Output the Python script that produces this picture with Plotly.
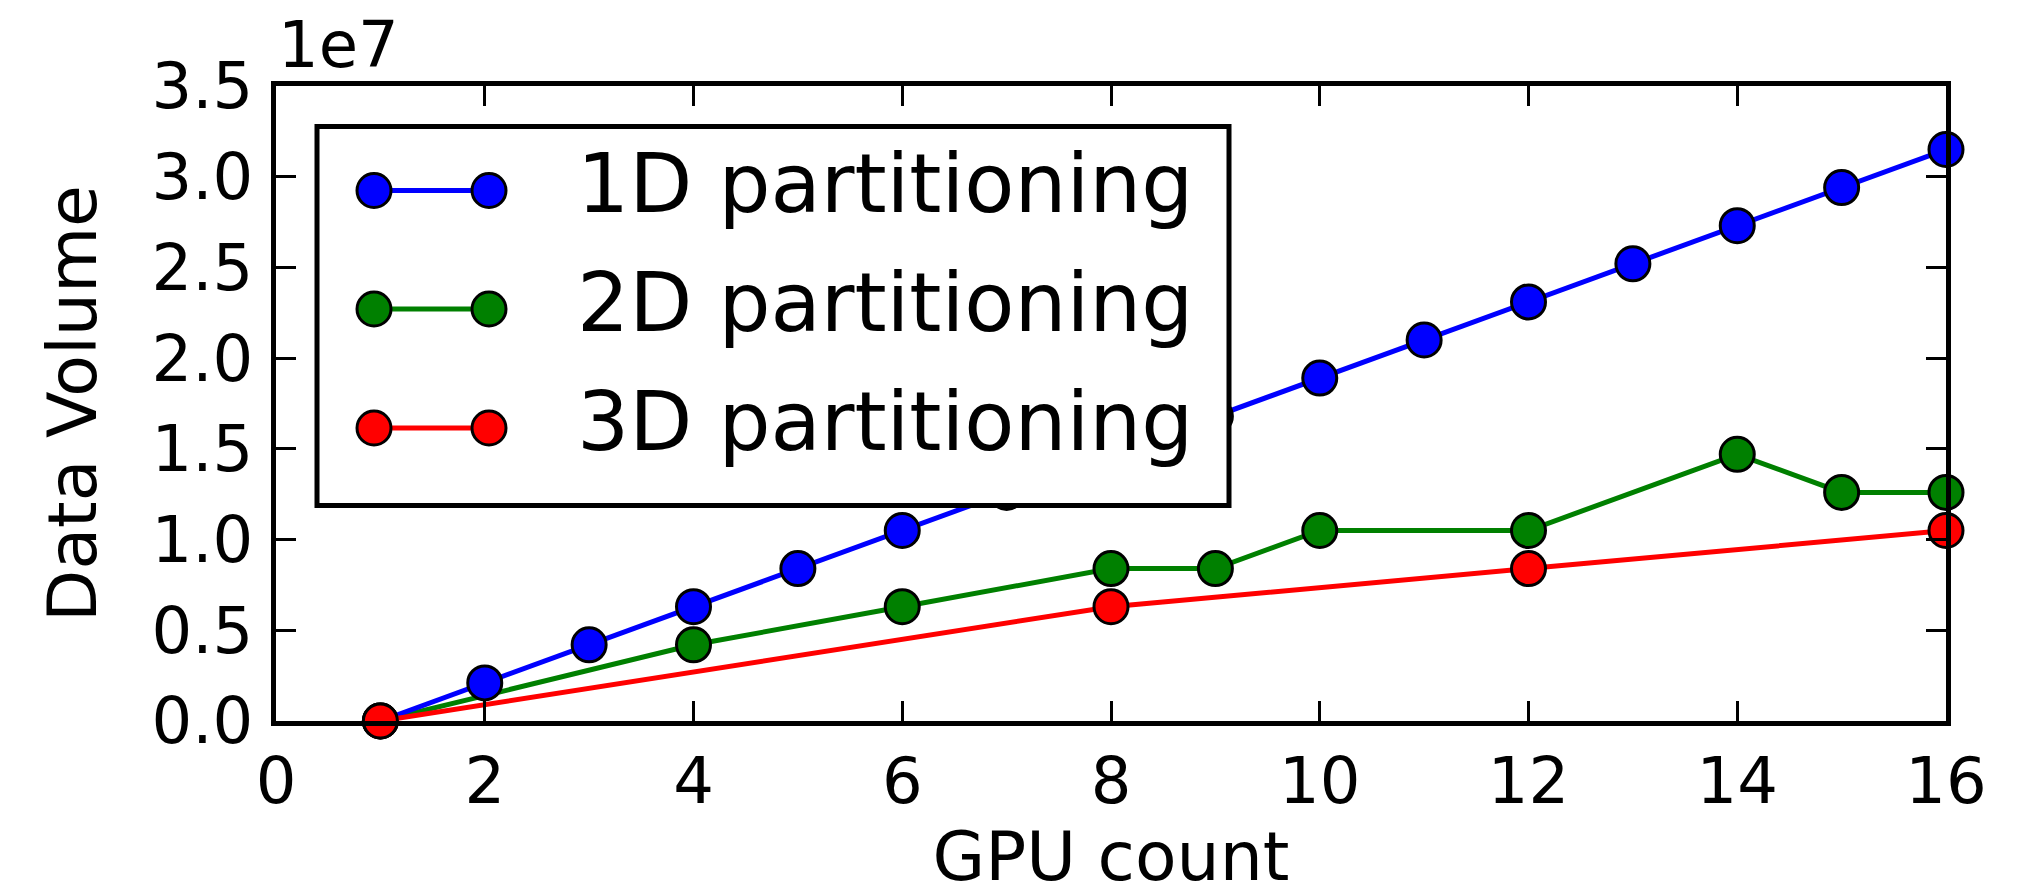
import plotly.graph_objects as go

# ---- data ----
gpus_1d = [1, 2, 3, 4, 5, 6, 7, 8, 9, 10, 11, 12, 13, 14, 15, 16]
vol_1d = [0.0, 2.1e6, 4.2e6, 6.3e6, 8.4e6, 1.05e7, 1.26e7, 1.47e7, 1.68e7, 1.89e7,
          2.10e7, 2.31e7, 2.52e7, 2.73e7, 2.94e7, 3.15e7]
gpus_2d = [1, 4, 6, 8, 9, 10, 12, 14, 15, 16]
vol_2d = [0.0, 4.2e6, 6.3e6, 8.4e6, 8.4e6, 1.05e7, 1.05e7, 1.47e7, 1.26e7, 1.26e7]
gpus_3d = [1, 8, 12, 16]
vol_3d = [0.0, 6.3e6, 8.4e6, 1.05e7]

series_names = ["1D partitioning", "2D partitioning", "3D partitioning"]
series_colors = ["#0000ff", "#008000", "#ff0000"]

x_ticks = [0, 2, 4, 6, 8, 10, 12, 14, 16]
y_ticks = [0, 0.5e7, 1.0e7, 1.5e7, 2.0e7, 2.5e7, 3.0e7, 3.5e7]
y_tick_text = ["0.0", "0.5", "1.0", "1.5", "2.0", "2.5", "3.0", "3.5"]

FONT = "DejaVu Sans"
W, H = 2034, 896
L, R, T, B = 276, 88, 86, 175

fig = go.Figure()
data = {
    "1D partitioning": (gpus_1d, vol_1d),
    "2D partitioning": (gpus_2d, vol_2d),
    "3D partitioning": (gpus_3d, vol_3d),
}
order = ["2D partitioning", "1D partitioning", "3D partitioning"]
for name in order:
    xs, ys = data[name]
    c = series_colors[series_names.index(name)]
    fig.add_trace(go.Scatter(
        x=xs, y=ys, mode="lines+markers", name=name, showlegend=False,
        line=dict(color=c, width=5),
        marker=dict(color=c, size=34, line=dict(color="black", width=3)),
        cliponaxis=False,
    ))

axis_common = dict(
    showgrid=False, zeroline=False, showline=True, linecolor="black", linewidth=5,
    mirror="allticks", ticks="inside", ticklen=20, tickwidth=2.5, tickcolor="black",
    tickfont=dict(family=FONT, size=64, color="black"),
)
fig.update_xaxes(range=[0, 16], tickvals=x_ticks, ticktext=[str(v) for v in x_ticks],
                 title=dict(text="GPU count", font=dict(family=FONT, size=68, color="black"), standoff=20),
                 **axis_common)
fig.update_yaxes(range=[0, 3.5e7], tickvals=y_ticks, ticktext=y_tick_text, ticklabelstandoff=5,
                 title=dict(text="Data Volume", font=dict(family=FONT, size=68, color="black"), standoff=34),
                 **axis_common)

pw, ph = W - L - R, H - T - B
def px(xf):
    return (xf - L) / pw
def py(yf):
    return (H - B - yf) / ph

shapes = []
annotations = []
# legend box
shapes.append(dict(type="rect", xref="paper", yref="paper", layer="above",
                   x0=px(317), x1=px(1229), y0=py(505.5), y1=py(126.5),
                   line=dict(color="black", width=5), fillcolor="white"))
rows_y = [190.5, 309, 428]
for name, c, ry in zip(series_names, series_colors, rows_y):
    shapes.append(dict(type="line", xref="paper", yref="paper", layer="above",
                       x0=px(374), x1=px(489), y0=py(ry), y1=py(ry),
                       line=dict(color=c, width=5)))
    for mx in (374, 489):
        shapes.append(dict(type="circle", xref="paper", yref="paper", layer="above",
                           xsizemode="pixel", ysizemode="pixel",
                           xanchor=px(mx), yanchor=py(ry),
                           x0=-17, x1=17, y0=-17, y1=17,
                           fillcolor=c, line=dict(color="black", width=3)))
    annotations.append(dict(xref="paper", yref="paper", x=px(575), y=py(ry),
                            xanchor="left", yanchor="middle", yshift=7, showarrow=False,
                            text=name, font=dict(family=FONT, size=82, color="black")))

annotations.append(dict(xref="paper", yref="paper", x=0, y=1, xanchor="left", yanchor="bottom",
                        yshift=2, showarrow=False, text="1e7",
                        font=dict(family=FONT, size=64, color="black")))

fig.update_layout(
    width=W, height=H, margin=dict(l=L, r=R, t=T, b=B),
    paper_bgcolor="white", plot_bgcolor="white",
    shapes=shapes, annotations=annotations, showlegend=False,
)
fig.write_html("out.html", config={"displayModeBar": False},
               post_script="document.body.style.margin='0';")
